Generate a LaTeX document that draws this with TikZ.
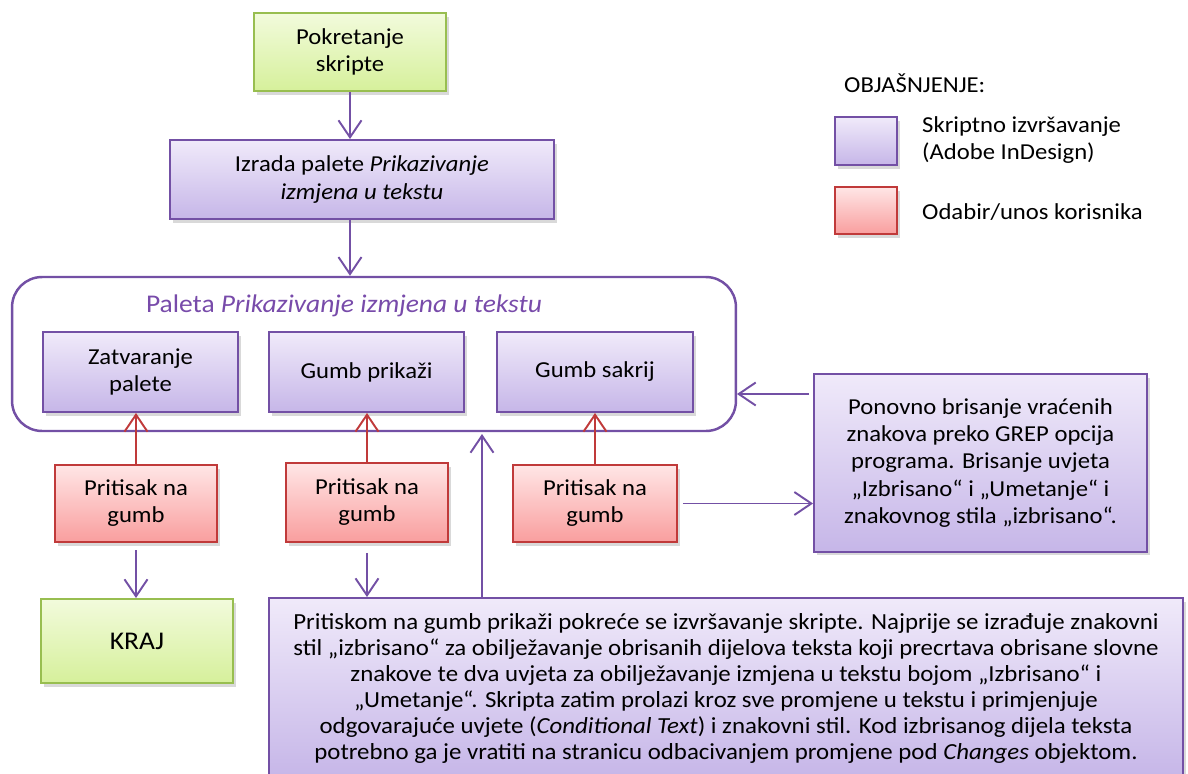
\documentclass[tikz,border=0pt]{standalone}
\usepackage{fontspec}
\setmainfont{Carlito}[FakeStretch=1.08]
\usetikzlibrary{positioning,shadows,arrows.meta}

\definecolor{lila}{RGB}{115,80,165}
\definecolor{lilaTop}{RGB}{240,234,250}
\definecolor{lilaBot}{RGB}{198,182,232}
\definecolor{crvena}{RGB}{192,58,58}
\definecolor{redTop}{RGB}{255,230,230}
\definecolor{redBot}{RGB}{249,158,158}
\definecolor{zelena}{RGB}{152,190,80}
\definecolor{greenTop}{RGB}{242,251,220}
\definecolor{greenBot}{RGB}{214,240,155}
\definecolor{naslov}{RGB}{120,75,170}

\begin{document}
\begin{tikzpicture}[
    x=0.02cm, y=-0.02cm,
    >={Straight Barb[length=3.4mm,width=4.6mm]},
    box/.style={draw,line width=1.1pt,align=center,inner sep=2pt,
      font=\fontsize{13}{15.4}\selectfont,
      drop shadow={shadow xshift=1.5pt,shadow yshift=-2pt,opacity=0.3}},
    script/.style={box,draw=lila,top color=lilaTop,bottom color=lilaBot},
    user/.style={box,draw=crvena,top color=redTop,bottom color=redBot},
    term/.style={box,draw=zelena,top color=greenTop,bottom color=greenBot},
    conn/.style={->,lila,line width=1.1pt},
    press/.style={->,crvena,line width=1.1pt}
    ]

    \useasboundingbox (0,0) rectangle (1188,774);
    \clip (0,0) rectangle (1188,774);

    \node (start) [term,minimum width=3.84cm,minimum height=1.56cm] at (350,52) {Pokretanje\\skripte};
    \node (izrada) [script,minimum width=7.68cm,minimum height=1.58cm] at (362,179.5)
      {Izrada palete \textit{Prikazivanje}\\\textit{izmjena u tekstu}};

    \node (paleta) [draw=lila,line width=1.4pt,rounded corners=0.6cm,
      minimum width=14.48cm,minimum height=3.08cm] at (374,354) {};
    \node (naslov) [naslov,font=\fontsize{14.5}{17}\selectfont] at (344,306)
      {Paleta \textit{Prikazivanje izmjena u tekstu}};

    \node (zatv) [script,minimum width=3.9cm,minimum height=1.6cm] at (140.5,372) {Zatvaranje\\palete};
    \node (prikazi) [script,minimum width=3.9cm,minimum height=1.6cm] at (366.5,372) {Gumb prikaži};
    \node (sakrij) [script,minimum width=3.92cm,minimum height=1.6cm] at (595,372) {Gumb sakrij};

    \node (p1) [user,minimum width=3.24cm,minimum height=1.54cm] at (136,503.5) {Pritisak na\\gumb};
    \node (p2) [user,minimum width=3.24cm,minimum height=1.58cm] at (367,502.5) {Pritisak na\\gumb};
    \node (p3) [user,minimum width=3.28cm,minimum height=1.54cm] at (595,503.5) {Pritisak na\\gumb};

    \node (kraj) [term,minimum width=3.84cm,minimum height=1.68cm,
      font=\fontsize{14.5}{17}\selectfont] at (137,641) {KRAJ};

    \node (ponovno) [script,minimum width=6.66cm,minimum height=3.56cm] at (980.5,463)
      {Ponovno brisanje vraćenih\\znakova preko GREP opcija\\programa. Brisanje uvjeta\\
       „Izbrisano“ i „Umetanje“ i\\znakovnog stila „izbrisano“.};

    \node (opis) [script,minimum width=18.28cm,minimum height=3.6cm,
      font=\fontsize{13.1}{14.8}\selectfont] at (726,688)
      {Pritiskom na gumb prikaži pokreće se izvršavanje skripte. Najprije se izrađuje znakovni\\
       stil „izbrisano“ za obilježavanje obrisanih dijelova teksta koji precrtava obrisane slovne\\
       znakove te dva uvjeta za obilježavanje izmjena u tekstu bojom „Izbrisano“ i\\
       „Umetanje“. Skripta zatim prolazi kroz sve promjene u tekstu i primjenjuje\\
       odgovarajuće uvjete (\textit{Conditional Text}) i znakovni stil. Kod izbrisanog dijela teksta\\
       potrebno ga je vratiti na stranicu odbacivanjem promjene pod \textit{Changes} objektom.};

    % legenda
    \node (legenda) [anchor=west,font=\fontsize{13}{15.4}\selectfont] at (838,83) {OBJAŠNJENJE:};
    \node (legLila) [script,minimum width=1.24cm,minimum height=0.96cm] at (866,141) {};
    \node (legCrvena) [user,minimum width=1.24cm,minimum height=0.94cm] at (866,210.5) {};
    \node (txtLila) [anchor=west,align=left,font=\fontsize{13}{15.4}\selectfont] at (916,140)
      {Skriptno izvršavanje\\(Adobe InDesign)};
    \node (txtCrvena) [anchor=west,font=\fontsize{13}{15.4}\selectfont] at (916,212) {Odabir/unos korisnika};

    \coordinate (gore) at (482,434);
    \coordinate (povrat) at (737,394);

    \draw[conn] (start.south) -- (start.south |- izrada.north);
    \draw[conn] (izrada.south -| start) -- (paleta.north -| start);

    \draw[press] (p1.north) -- (p1.north |- zatv.south);
    \draw[press] (p2.north) -- (p2.north |- prikazi.south);
    \draw[press] (p3.north) -- (p3.north |- sakrij.south);

    \draw[conn,shorten <=0.15cm] (p1.south) -- (p1.south |- kraj.north);
    \draw[conn,shorten <=0.2cm] (p2.south) -- (p2.south |- opis.north);
    \draw[conn,shorten <=0.1cm] (p3.east) -- (p3.east -| ponovno.west);
    \draw[conn] (gore |- opis.north) -- (gore);
    \draw[conn,shorten <=0.08cm] (povrat -| ponovno.west) -- (povrat);

  \end{tikzpicture}
\end{document}
